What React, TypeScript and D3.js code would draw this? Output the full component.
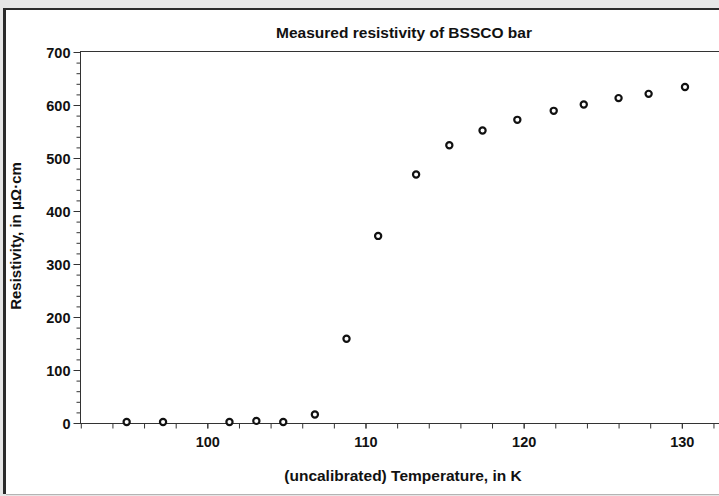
import React, { useRef, useEffect } from 'react';
import * as d3 from 'd3';

// Measured points
const temperatureK = [94.9, 97.2, 101.4, 103.1, 104.8, 106.8, 108.8, 110.8, 113.2, 115.3, 117.4, 119.6, 121.9, 123.8, 126.0, 127.9, 130.2];
const resistivity = [2, 2, 2, 4, 2, 16, 159, 353, 469, 524, 552, 572, 589, 601, 613, 621, 634];

// Axis ticks
const yMajorTicks = [0, 100, 200, 300, 400, 500, 600, 700];
const yMinorTicks = d3.range(0, 701, 20);
const xMajorTicks = [100, 110, 120, 130];
const xMinorTicks = d3.range(92, 133, 2);

const title = 'Measured resistivity of BSSCO bar';
const xLabel = '(uncalibrated) Temperature, in K';
const yLabel = 'Resistivity, in μΩ·cm';

const W = 719;
const H = 496;
const FONT = '"Liberation Sans", Arial, sans-serif';

const ResistivityChart = () => {
  const svgRef = useRef<SVGSVGElement>(null);

  useEffect(() => {
    if (!svgRef.current) return;
    const svg = d3.select(svgRef.current);
    svg.selectAll('*').remove();

    // window frame
    svg.append('rect').attr('x', 0).attr('y', 0).attr('width', W).attr('height', H).attr('fill', '#e6e6e6');
    svg.append('rect').attr('x', 3).attr('y', 8).attr('width', W - 3).attr('height', H - 8 - 2).attr('fill', '#2a2a2a');
    svg.append('rect').attr('x', 6).attr('y', 10).attr('width', W - 6).attr('height', H - 10 - 2).attr('fill', '#ffffff');
    svg.append('rect').attr('x', 6).attr('y', H - 2).attr('width', W - 6).attr('height', 1).attr('fill', '#b4b4b4');

    const x = d3.scaleLinear().domain([91.95, 132.35]).range([80, W]);
    const y = d3.scaleLinear().domain([0, 700]).range([423, 52]);

    const axisColor = '#333333';

    // top frame line
    svg.append('line')
      .attr('x1', 80).attr('x2', W).attr('y1', 51.5).attr('y2', 51.5)
      .attr('stroke', axisColor).attr('stroke-width', 1);

    // Y axis
    const yMinor = svg.append('g').attr('transform', 'translate(80.5,0)')
      .call(d3.axisLeft(y).tickValues(yMinorTicks).tickSize(4).tickFormat(() => ''));
    yMinor.select('.domain').remove();
    yMinor.selectAll('line').attr('stroke', axisColor);

    const yMajor = svg.append('g').attr('transform', 'translate(80.5,0)')
      .call(d3.axisLeft(y).tickValues(yMajorTicks).tickSize(7).tickPadding(3));
    yMajor.select('.domain').attr('stroke', axisColor).attr('d', `M0,${y(700)}V${y(0)}`);
    yMajor.selectAll('line').attr('stroke', axisColor);
    yMajor.selectAll('text')
      .attr('dy', '0.36em')
      .style('font-family', FONT)
      .style('font-weight', 'bold')
      .style('font-size', '14.5px')
      .style('fill', '#111');

    // X axis
    const xMinor = svg.append('g').attr('transform', 'translate(0,423.5)')
      .call(d3.axisBottom(x).tickValues(xMinorTicks).tickSize(5).tickFormat(() => ''));
    xMinor.select('.domain').attr('stroke', axisColor).attr('d', `M80,0H${W}`);
    xMinor.selectAll('line').attr('stroke', axisColor);

    const xMajor = svg.append('g').attr('transform', 'translate(0,423.5)')
      .call(d3.axisBottom(x).tickValues(xMajorTicks).tickSize(5).tickPadding(8));
    xMajor.select('.domain').remove();
    xMajor.selectAll('line').attr('stroke', axisColor);
    xMajor.selectAll('text')
      .style('font-family', FONT)
      .style('font-weight', 'bold')
      .style('font-size', '14.5px')
      .style('fill', '#111');

    // points
    svg.append('g')
      .selectAll('circle')
      .data(temperatureK.map((t, i) => ({ t, r: resistivity[i] })))
      .enter().append('circle')
      .attr('cx', d => x(d.t))
      .attr('cy', d => y(d.r))
      .attr('r', 3.1)
      .attr('fill', '#fff')
      .attr('stroke', '#111')
      .attr('stroke-width', 2.2);

    // title and labels
    svg.append('text')
      .attr('x', 404).attr('y', 38)
      .attr('text-anchor', 'middle')
      .style('font-family', FONT).style('font-weight', 'bold').style('font-size', '15.5px')
      .style('fill', '#111')
      .text(title);

    svg.append('text')
      .attr('x', 403).attr('y', 481)
      .attr('text-anchor', 'middle')
      .style('font-family', FONT).style('font-weight', 'bold').style('font-size', '15.5px')
      .style('fill', '#111')
      .text(xLabel);

    svg.append('text')
      .attr('transform', 'translate(21,236) rotate(-90)')
      .attr('text-anchor', 'middle')
      .style('font-family', FONT).style('font-weight', 'bold').style('font-size', '15px')
      .style('fill', '#111')
      .text(yLabel);
  }, []);

  return <svg ref={svgRef} width={W} height={H} style={{ display: 'block' }} />;
};

const App = () => (
  <div style={{ position: 'absolute', left: 0, top: 0, width: W, height: H }}>
    <ResistivityChart />
  </div>
);

export default App;
